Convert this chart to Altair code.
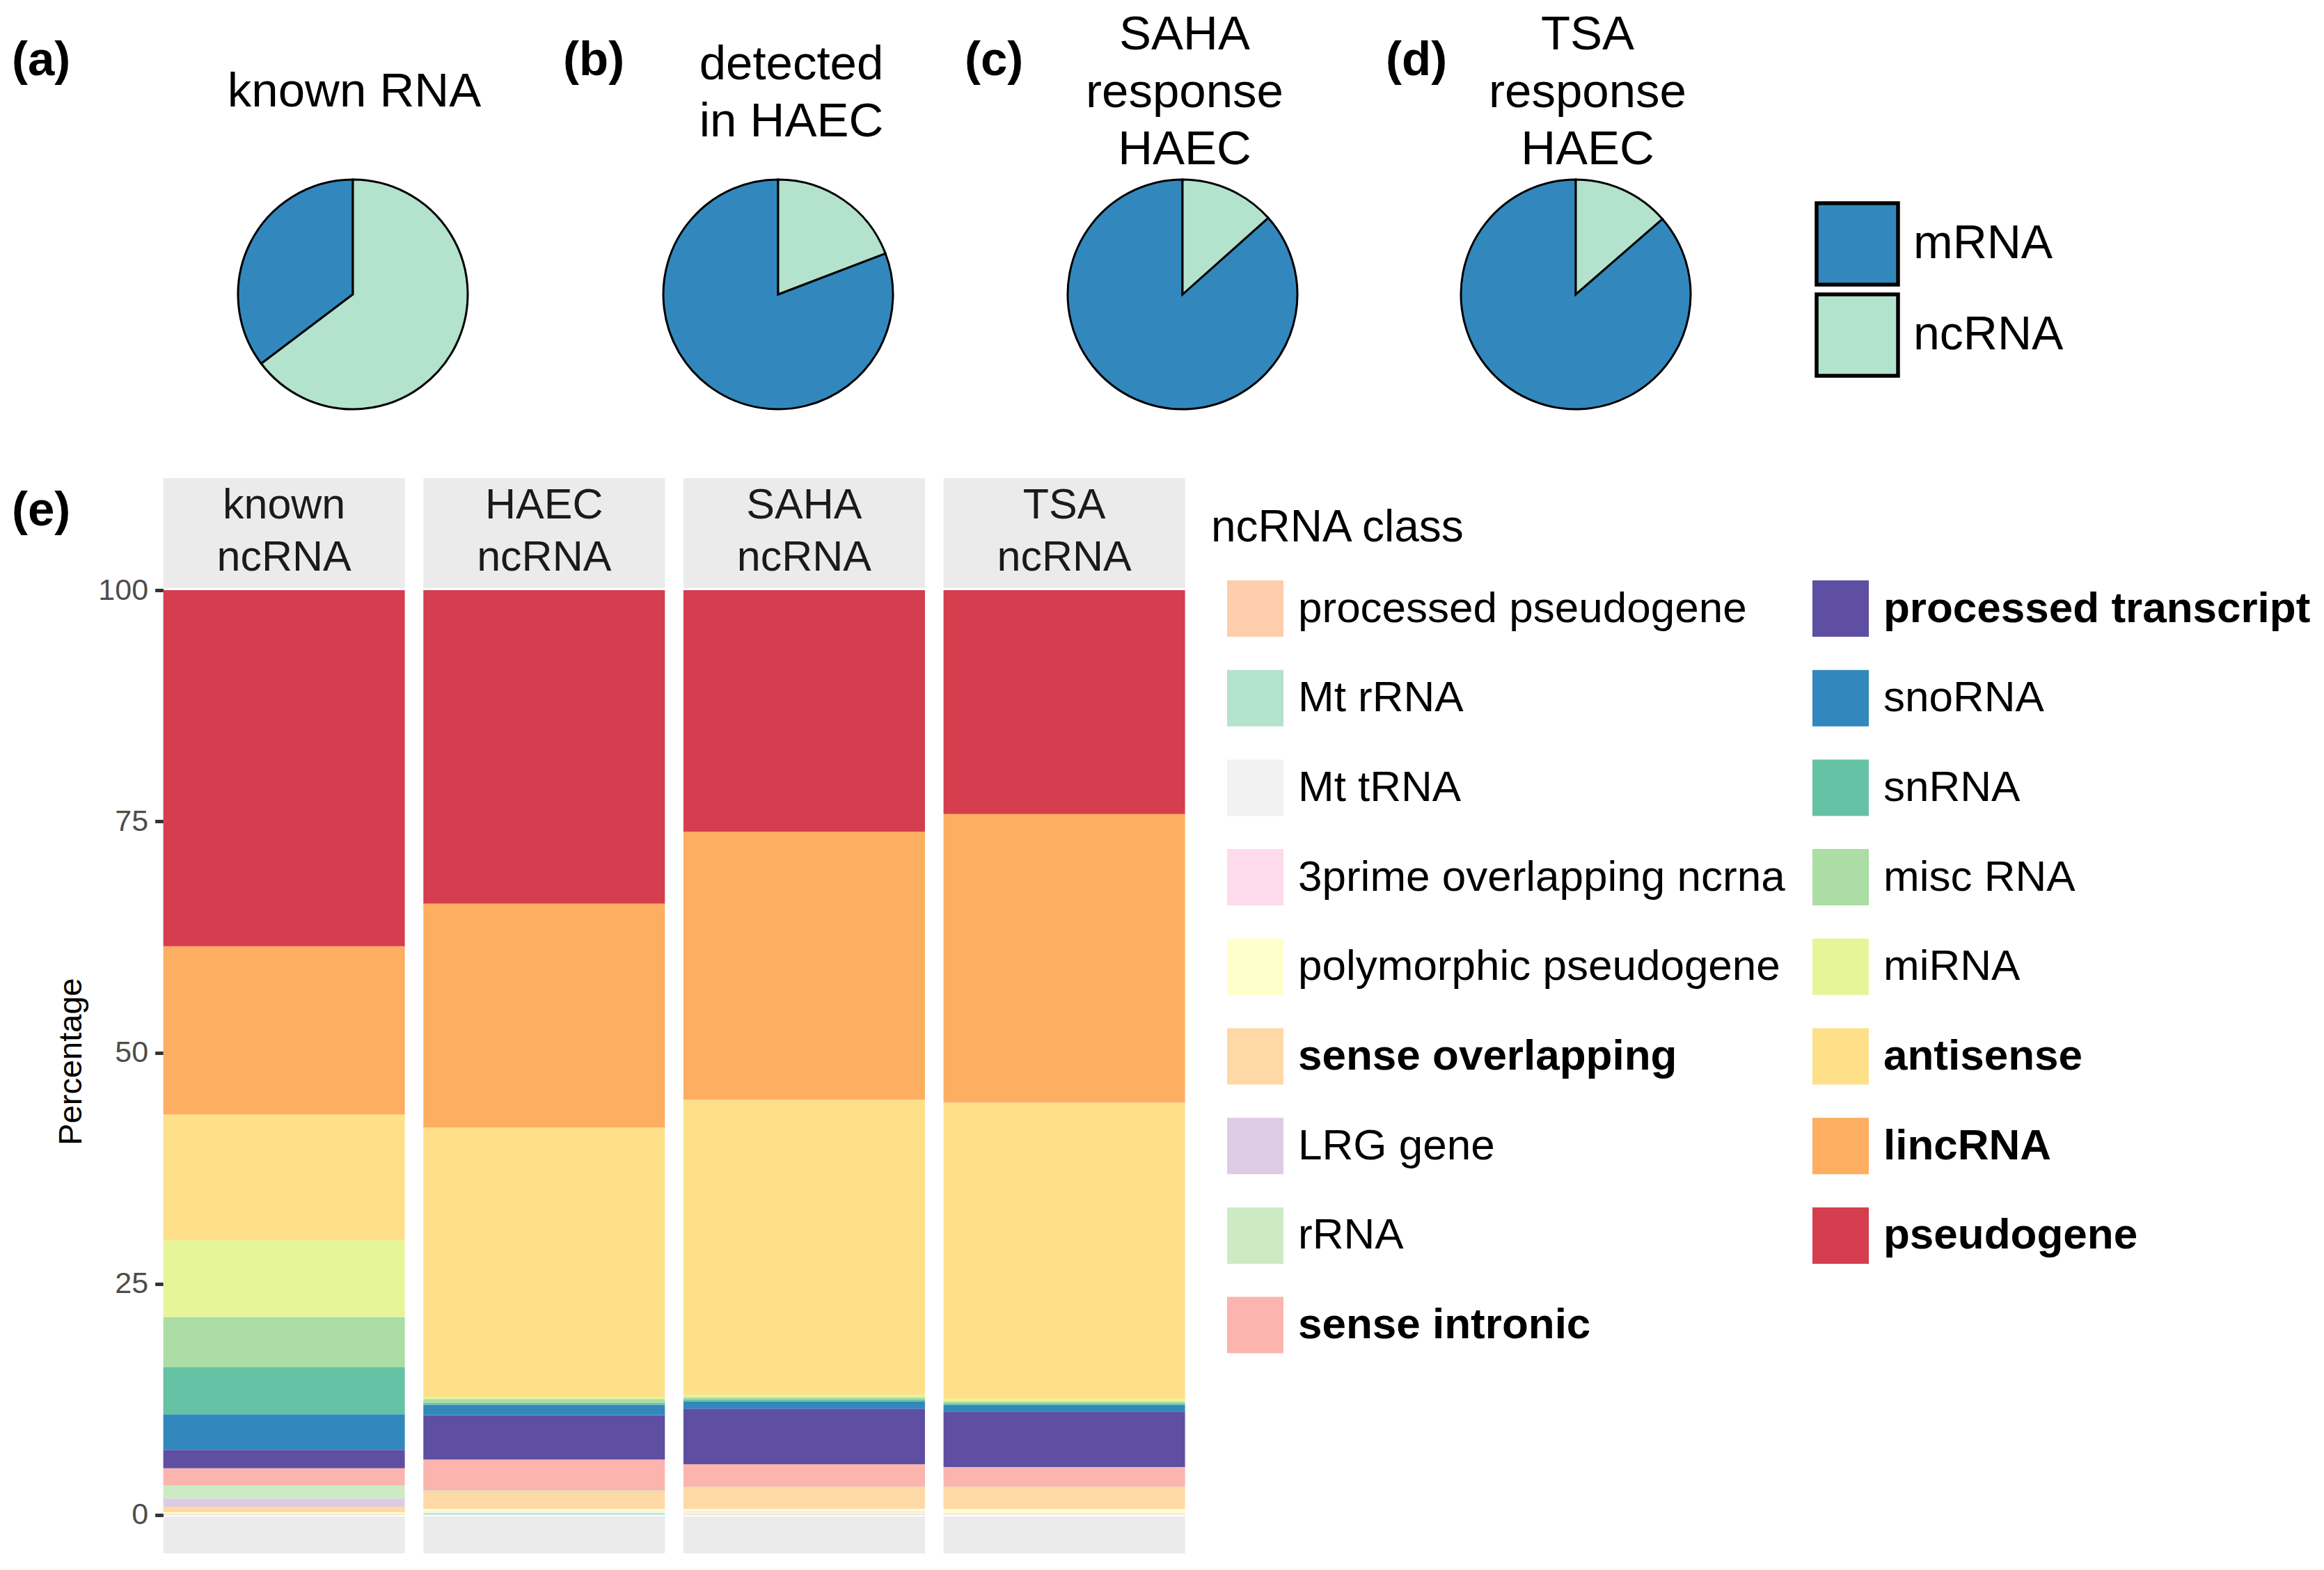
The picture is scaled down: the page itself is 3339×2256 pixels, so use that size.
import altair as alt
import pandas as pd

# ---------------- data ----------------
pie_titles = ["known RNA", "detected\nin HAEC", "SAHA\nresponse\nHAEC", "TSA\nresponse\nHAEC"]
panel_labels = ["(a)", "(b)", "(c)", "(d)", "(e)"]
rna_types = ["mRNA", "ncRNA"]
rna_colors = ["#3288BD", "#B3E2CD"]
pie_mrna = [35.3, 80.8, 86.6, 86.4]
pie_ncrna = [64.7, 19.2, 13.4, 13.6]

samples = ["known ncRNA", "HAEC ncRNA", "SAHA ncRNA", "TSA ncRNA"]
strip_labels = ["known\nncRNA", "HAEC\nncRNA", "SAHA\nncRNA", "TSA\nncRNA"]

# stacking order, bottom -> top (also legend order, column by column)
classes = [
    "processed pseudogene", "Mt rRNA", "Mt tRNA", "3prime overlapping ncrna",
    "polymorphic pseudogene", "sense overlapping", "LRG gene", "rRNA",
    "sense intronic", "processed transcript", "snoRNA", "snRNA", "misc RNA",
    "miRNA", "antisense", "lincRNA", "pseudogene",
]
class_colors = [
    "#FDCDAC", "#B3E2CD", "#F2F2F2", "#FDDAEC", "#FFFFCC", "#FED9A6", "#DECBE4",
    "#CCEBC5", "#FBB4AE", "#5E4FA2", "#3288BD", "#66C2A5", "#ABDDA4", "#E6F598",
    "#FEE08B", "#FDAE61", "#D53E4F",
]
bold_classes = ["sense overlapping", "sense intronic", "processed transcript",
                "antisense", "lincRNA", "pseudogene"]

known_pct = [0.05, 0.03, 0.05, 0.02, 0.15, 0.6, 0.88, 1.42, 1.85, 2.0, 3.85, 5.1, 5.4, 8.3, 13.6, 18.2, 38.5]
haec_pct = [0.02, 0.18, 0.23, 0.02, 0.2, 1.85, 0.05, 0.1, 3.35, 4.8, 1.1, 0.25, 0.4, 0.25, 29.1, 24.2, 33.9]
saha_pct = [0.05, 0.05, 0.23, 0.1, 0.22, 2.3, 0.05, 0.05, 2.45, 6.0, 0.8, 0.2, 0.25, 0.25, 31.9, 29.0, 26.1]
tsa_pct = [0.01, 0.01, 0.01, 0.17, 0.45, 2.3, 0.05, 0.05, 2.15, 6.0, 0.7, 0.2, 0.2, 0.2, 32.1, 31.2, 24.2]
sample_values = [known_pct, haec_pct, saha_pct, tsa_pct]

# ---------------- layout helpers (page px -> view px) ----------------
OX, OY = 234.6, 687.0
W, H = 1468, 1545


def rx(px):
    return px - OX


def ry(py):
    return py - OY


FONT = "Liberation Sans"

# ---------------- pies ----------------
pie_cx = [507, 1118, 1699, 2264]
pie_cy = 423
pie_legend = alt.Legend(
    title=None, orient="none", legendX=rx(2607), legendY=ry(289),
    symbolType="square", symbolSize=117 * 117, symbolStrokeColor="black",
    symbolStrokeWidth=5.5, labelFontSize=68, labelOffset=19, rowPadding=-14.5,
    labelColor="black", padding=0, labelLimit=600, symbolOpacity=1,
)
pie_layers = []
for i, cx in enumerate(pie_cx):
    d = pd.DataFrame({"type": rna_types, "pct": [pie_mrna[i], pie_ncrna[i]]})
    pie_layers.append(
        alt.Chart(d).mark_arc(radius=165, stroke="black", strokeWidth=3).encode(
            theta=alt.Theta("pct:Q", stack=True),
            color=alt.Color("type:N", scale=alt.Scale(domain=rna_types, range=rna_colors),
                            legend=pie_legend),
            order=alt.Order("type:N", sort="descending"),
            x=alt.value(rx(cx)),
            y=alt.value(ry(pie_cy)),
        )
    )
pies = alt.layer(*pie_layers)

# ---------------- stacked bars ----------------
rows = []
for s, vals in zip(samples, sample_values):
    for r, (c, v) in enumerate(zip(classes, vals)):
        rows.append({"sample": s, "cls": c, "pct": v, "rank": r})
bar_df = pd.DataFrame(rows)

bold_list = ", ".join("'" + c + "'" for c in bold_classes)
cls_legend = alt.Legend(
    title=None, orient="none", legendX=rx(1763), legendY=ry(834), columns=2,
    direction="vertical", symbolType="square", symbolSize=81 * 81,
    symbolStrokeWidth=0, labelFontSize=62, labelOffset=21, rowPadding=47.7,
    columnPadding=39, labelLimit=1500, labelColor="black", padding=0,
    symbolOpacity=1,
    labelFontWeight={"expr": "indexof([" + bold_list + "], datum.label) >= 0 ? 'bold' : 'normal'"},
)

xenc = alt.X("sample:N", scale=alt.Scale(domain=samples, paddingInner=0.0713, paddingOuter=0),
             axis=None)

bars = alt.Chart(bar_df).mark_bar().encode(
    x=xenc,
    y=alt.Y("pct:Q", stack="zero",
            scale=alt.Scale(domain=[-4.14, 112.12], nice=False, zero=False),
            axis=alt.Axis(values=[0, 25, 50, 75, 100], grid=False, domain=False,
                          tickSize=12, tickWidth=5, tickColor="#333333",
                          labelFontSize=43, labelColor="#4D4D4D", labelPadding=10,
                          title="Percentage", titleFontSize=47, titleFontWeight="normal",
                          titleColor="black", titleX=-132.6, titleY=838, titleAngle=270,
                          titleAlign="center", titleBaseline="middle")),
    color=alt.Color("cls:N", scale=alt.Scale(domain=classes, range=class_colors),
                    legend=cls_legend),
    order=alt.Order("rank:Q", sort="ascending"),
)

strip_df = pd.DataFrame({"sample": samples, "label": strip_labels})
strip_top = alt.Chart(strip_df).mark_rect(color="#EBEBEB").encode(
    x=xenc, y=alt.value(0), y2=alt.value(158))
strip_bot = alt.Chart(strip_df).mark_rect(color="#EBEBEB").encode(
    x=xenc, y=alt.value(1492), y2=alt.value(1545))
strip_text = alt.Chart(strip_df).mark_text(
    fontSize=61, lineBreak="\n", lineHeight=75, baseline="alphabetic", align="center",
    color="#1A1A1A").encode(x=xenc, y=alt.value(58), text="label:N")

bar_group = alt.layer(strip_top, strip_bot, bars, strip_text)


# ---------------- free texts ----------------
def text_layer(txt, x, y, size, weight="normal", align="left", line_height=None):
    kw = dict(align=align, baseline="alphabetic", fontSize=size, fontWeight=weight,
              lineBreak="\n", color="black")
    if line_height is not None:
        kw["lineHeight"] = line_height
    return alt.Chart(pd.DataFrame({"t": [txt]})).mark_text(**kw).encode(
        text="t:N", x=alt.value(x), y=alt.value(y))


texts = []
title_x = [509, 1137, 1702, 2281]
title_y = [153, 113.5, 71.4, 71.4]
for t, x, y in zip(pie_titles, title_x, title_y):
    texts.append(text_layer(t, rx(x), ry(y), 69, align="center", line_height=82.3))

lab_x = [17, 809, 1386, 1991, 17]
lab_y = [107.8, 107.8, 107.8, 107.8, 755]
for t, x, y in zip(panel_labels, lab_x, lab_y):
    texts.append(text_layer(t, rx(x), ry(y), 69, weight="bold"))

texts.append(text_layer("ncRNA class", rx(1740), ry(778), 64))

chart = alt.layer(pies, bar_group, *texts).resolve_scale(color="independent").properties(
    width=W, height=H,
    autosize=alt.AutoSizeParams(type="none"),
    padding={"left": OX - 8, "top": OY - 8, "right": 3331 - OX - W, "bottom": 16},
).configure(font=FONT).configure_view(stroke=None)

chart.save("out.html", embed_options={"renderer": "svg", "actions": False})
